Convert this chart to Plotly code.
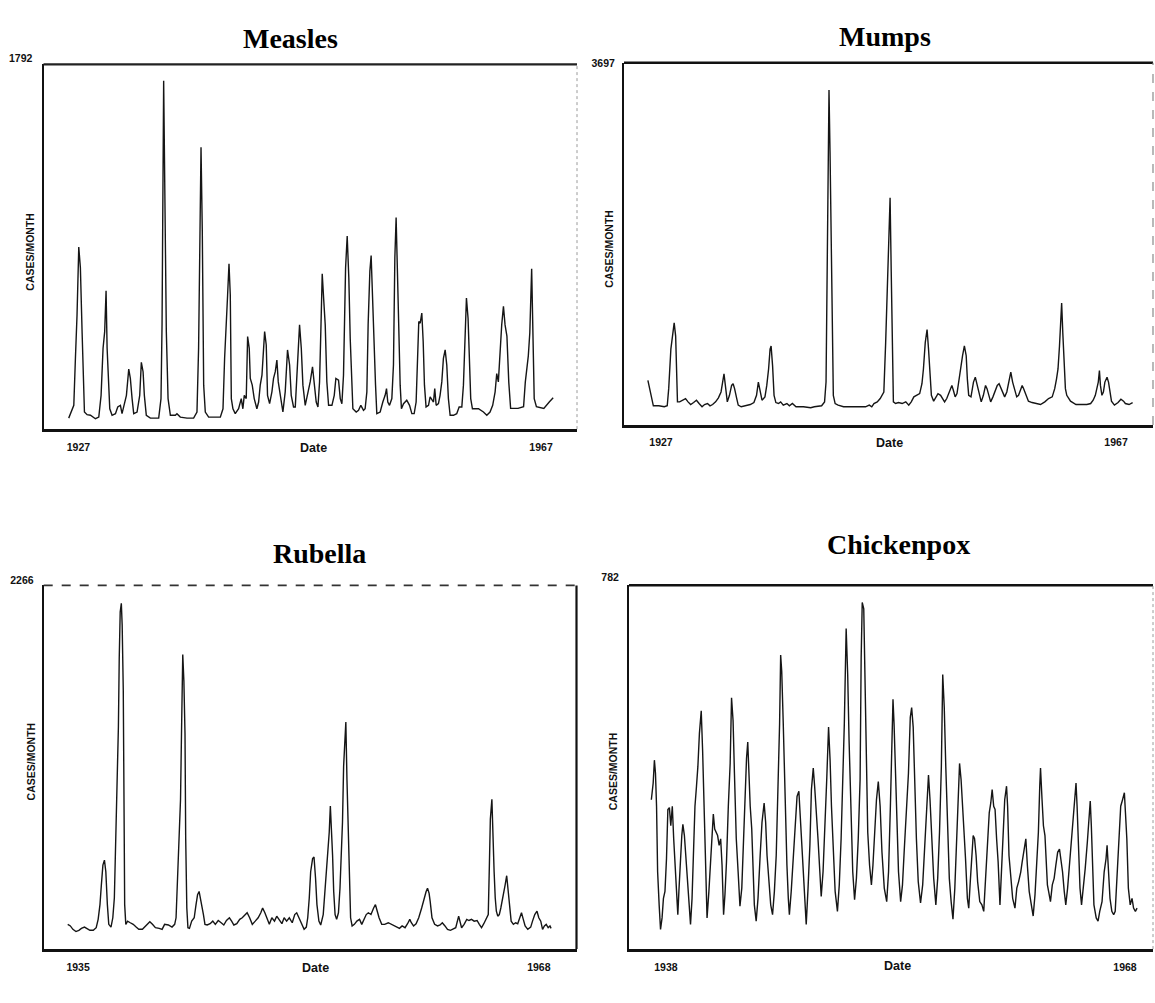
import plotly.graph_objects as go

W, H = 1155, 1003

# ---------------- data (year, cases per month) ----------------
measles_pts = [
    (1926.16, 54), (1926.60, 117), (1926.74, 348), (1926.88, 562), (1927.03, 894), (1927.17, 792),
    (1927.32, 471), (1927.40, 265), (1927.52, 84), (1927.75, 71), (1928.04, 68), (1928.47, 51),
    (1928.76, 59), (1928.96, 166), (1929.13, 397), (1929.27, 479), (1929.39, 680), (1929.48, 397),
    (1929.62, 199), (1929.71, 100), (1929.91, 68), (1930.20, 76), (1930.40, 109), (1930.63, 117),
    (1930.77, 76), (1930.92, 117), (1931.15, 166), (1931.35, 295), (1931.49, 249), (1931.64, 150),
    (1931.78, 76), (1932.07, 84), (1932.30, 166), (1932.44, 328), (1932.59, 282), (1932.70, 166),
    (1932.87, 68), (1933.22, 54), (1933.94, 54), (1934.14, 150), (1934.23, 512), (1934.37, 1711),
    (1934.49, 1072), (1934.60, 479), (1934.75, 150), (1934.95, 68), (1935.38, 68), (1935.52, 76),
    (1935.81, 59), (1936.39, 54), (1936.96, 54), (1937.25, 84), (1937.39, 397), (1937.48, 990),
    (1937.60, 1385), (1937.71, 973), (1937.83, 216), (1937.97, 84), (1938.26, 59), (1939.27, 59),
    (1939.50, 100), (1939.64, 348), (1939.79, 496), (1939.90, 660), (1940.02, 812), (1940.13, 660),
    (1940.22, 150), (1940.36, 100), (1940.56, 76), (1940.85, 100), (1941.08, 150), (1941.22, 100),
    (1941.34, 166), (1941.51, 150), (1941.63, 455), (1941.77, 397), (1941.86, 249), (1942.03, 216),
    (1942.20, 150), (1942.43, 100), (1942.58, 133), (1942.72, 216), (1942.87, 265), (1943.01, 380),
    (1943.10, 479), (1943.24, 413), (1943.35, 166), (1943.53, 125), (1943.73, 183), (1943.87, 249),
    (1944.02, 282), (1944.16, 339), (1944.28, 232), (1944.68, 84), (1944.88, 183), (1945.08, 389),
    (1945.26, 315), (1945.40, 166), (1945.60, 109), (1945.75, 109), (1945.95, 315), (1946.12, 512),
    (1946.27, 397), (1946.41, 216), (1946.61, 117), (1946.81, 166), (1947.04, 232), (1947.24, 306),
    (1947.39, 232), (1947.56, 133), (1947.71, 109), (1947.85, 232), (1947.96, 479), (1948.08, 763),
    (1948.20, 644), (1948.34, 512), (1948.48, 232), (1948.63, 117), (1948.92, 117), (1949.12, 166),
    (1949.26, 249), (1949.49, 240), (1949.64, 150), (1949.78, 125), (1949.92, 265), (1950.10, 792),
    (1950.24, 949), (1950.38, 743), (1950.50, 446), (1950.61, 249), (1950.73, 100), (1951.02, 84),
    (1951.22, 92), (1951.42, 117), (1951.65, 92), (1951.79, 100), (1951.94, 183), (1952.05, 512),
    (1952.20, 776), (1952.31, 853), (1952.43, 644), (1952.57, 348), (1952.69, 216), (1952.80, 76),
    (1953.09, 84), (1953.32, 133), (1953.52, 166), (1953.64, 199), (1953.75, 133), (1953.90, 117),
    (1954.10, 150), (1954.24, 315), (1954.36, 842), (1954.47, 1039), (1954.59, 693), (1954.70, 479),
    (1954.82, 216), (1954.93, 100), (1955.11, 125), (1955.39, 142), (1955.63, 117), (1955.83, 76),
    (1956.03, 76), (1956.20, 133), (1956.32, 380), (1956.43, 529), (1956.55, 520), (1956.69, 570),
    (1956.81, 430), (1956.92, 216), (1957.06, 109), (1957.27, 117), (1957.41, 158), (1957.55, 142),
    (1957.70, 133), (1957.81, 199), (1957.93, 117), (1958.13, 125), (1958.27, 166), (1958.42, 232),
    (1958.56, 348), (1958.71, 389), (1958.85, 315), (1958.99, 150), (1959.14, 68), (1959.43, 68),
    (1959.71, 76), (1959.92, 109), (1960.15, 109), (1960.29, 216), (1960.43, 479), (1960.55, 644),
    (1960.69, 545), (1960.81, 348), (1960.92, 150), (1961.07, 100), (1961.59, 100), (1962.02, 84),
    (1962.31, 68), (1962.59, 84), (1962.82, 117), (1963.03, 183), (1963.17, 273), (1963.31, 232),
    (1963.46, 413), (1963.60, 512), (1963.75, 603), (1963.89, 512), (1964.05, 457), (1964.21, 231),
    (1964.37, 102), (1965.01, 102), (1965.49, 110), (1965.64, 231), (1965.90, 360), (1966.03, 473),
    (1966.19, 788), (1966.28, 554), (1966.41, 150), (1966.60, 110), (1967.24, 102), (1967.73, 134),
    (1968.05, 154),
]

mumps_pts = [
    (1925.85, 454), (1926.01, 370), (1926.17, 286), (1926.33, 195), (1926.81, 195), (1927.29, 185),
    (1927.55, 195), (1927.68, 370), (1927.87, 773), (1928.03, 941), (1928.16, 1042), (1928.29, 907),
    (1928.39, 571), (1928.45, 235), (1928.64, 235), (1928.90, 252), (1929.16, 269), (1929.38, 235),
    (1929.61, 208), (1929.87, 228), (1930.12, 252), (1930.35, 218), (1930.61, 185), (1930.83, 208),
    (1931.09, 218), (1931.31, 195), (1931.54, 208), (1931.80, 235), (1932.05, 276), (1932.28, 336),
    (1932.44, 437), (1932.54, 521), (1932.66, 403), (1932.83, 235), (1933.02, 302), (1933.21, 403),
    (1933.34, 420), (1933.47, 370), (1933.66, 269), (1933.79, 202), (1934.05, 185), (1934.53, 202),
    (1934.85, 208), (1935.17, 228), (1935.40, 302), (1935.56, 437), (1935.72, 336), (1935.88, 252),
    (1936.14, 286), (1936.30, 403), (1936.46, 571), (1936.59, 773), (1936.68, 806), (1936.81, 605),
    (1936.94, 302), (1937.10, 228), (1937.33, 218), (1937.52, 235), (1937.75, 202), (1938.07, 218),
    (1938.29, 195), (1938.55, 218), (1938.87, 185), (1939.52, 185), (1940.16, 175), (1940.48, 185),
    (1941.12, 195), (1941.38, 235), (1941.51, 437), (1941.57, 1243), (1941.67, 2285), (1941.77, 3420),
    (1941.86, 2789), (1941.96, 1781), (1942.06, 773), (1942.15, 302), (1942.31, 218), (1942.57, 202),
    (1943.05, 185), (1944.02, 185), (1944.98, 185), (1945.31, 202), (1945.53, 185), (1945.72, 218),
    (1946.01, 235), (1946.27, 269), (1946.43, 296), (1946.59, 336), (1946.75, 840), (1946.91, 1445),
    (1947.01, 1949), (1947.14, 2318), (1947.24, 1562), (1947.33, 605), (1947.43, 235), (1947.62, 218),
    (1947.88, 228), (1948.20, 218), (1948.52, 235), (1948.78, 202), (1949.00, 235), (1949.23, 286),
    (1949.49, 302), (1949.74, 319), (1949.94, 420), (1950.07, 571), (1950.23, 840), (1950.39, 974),
    (1950.52, 773), (1950.64, 504), (1950.77, 302), (1950.97, 242), (1951.16, 276), (1951.35, 319),
    (1951.58, 302), (1951.74, 269), (1951.93, 235), (1952.12, 269), (1952.38, 336), (1952.57, 403),
    (1952.70, 353), (1952.86, 286), (1953.02, 319), (1953.19, 470), (1953.35, 605), (1953.51, 706),
    (1953.67, 806), (1953.83, 706), (1953.93, 470), (1954.05, 302), (1954.25, 286), (1954.47, 437),
    (1954.63, 487), (1954.79, 403), (1954.96, 302), (1955.15, 235), (1955.34, 302), (1955.53, 403),
    (1955.66, 370), (1955.82, 302), (1955.98, 235), (1956.18, 286), (1956.34, 336), (1956.56, 403),
    (1956.72, 420), (1956.89, 370), (1957.05, 336), (1957.21, 286), (1957.40, 336), (1957.59, 470),
    (1957.75, 538), (1957.91, 437), (1958.11, 336), (1958.27, 286), (1958.43, 302), (1958.56, 336),
    (1958.75, 403), (1958.88, 370), (1959.07, 302), (1959.30, 242), (1959.62, 228), (1960.04, 218),
    (1960.36, 208), (1960.74, 235), (1961.07, 269), (1961.39, 286), (1961.61, 370), (1961.77, 470),
    (1961.90, 571), (1962.03, 806), (1962.13, 1109), (1962.22, 1243), (1962.32, 941), (1962.42, 605),
    (1962.55, 370), (1962.67, 302), (1963.00, 242), (1963.48, 208), (1963.96, 208), (1964.44, 208),
    (1964.77, 218), (1964.99, 252), (1965.18, 302), (1965.31, 370), (1965.44, 437), (1965.54, 554),
    (1965.63, 403), (1965.76, 302), (1965.89, 336), (1966.02, 437), (1966.21, 487), (1966.34, 437),
    (1966.47, 336), (1966.60, 242), (1966.86, 202), (1967.18, 228), (1967.43, 262), (1967.66, 242),
    (1967.82, 218), (1968.14, 208), (1968.46, 228),
]

rubella_pts = [
    (1934.26, 154), (1934.45, 144), (1934.63, 123), (1934.85, 109), (1935.06, 117), (1935.24, 129),
    (1935.46, 137), (1935.64, 129), (1935.85, 117), (1936.09, 117), (1936.30, 133), (1936.44, 185),
    (1936.57, 277), (1936.67, 400), (1936.78, 523), (1936.89, 554), (1936.99, 482), (1937.10, 277),
    (1937.20, 154), (1937.36, 137), (1937.49, 195), (1937.60, 318), (1937.71, 687), (1937.81, 1097),
    (1937.89, 1384), (1937.95, 1815), (1938.02, 2102), (1938.10, 2154), (1938.16, 2020), (1938.24, 1610),
    (1938.29, 892), (1938.34, 277), (1938.42, 154), (1938.55, 174), (1938.74, 164), (1938.95, 154),
    (1939.16, 137), (1939.35, 123), (1939.61, 123), (1939.88, 150), (1940.14, 170), (1940.33, 154),
    (1940.54, 133), (1940.81, 129), (1941.02, 123), (1941.20, 154), (1941.47, 150), (1941.73, 137),
    (1941.92, 154), (1942.02, 195), (1942.13, 420), (1942.24, 708), (1942.34, 933), (1942.42, 1405),
    (1942.50, 1836), (1942.58, 1672), (1942.66, 1343), (1942.71, 687), (1942.79, 256), (1942.87, 133),
    (1942.98, 129), (1943.14, 174), (1943.32, 195), (1943.45, 277), (1943.56, 338), (1943.67, 359),
    (1943.77, 318), (1943.88, 256), (1943.98, 215), (1944.09, 154), (1944.25, 150), (1944.46, 158),
    (1944.65, 174), (1944.83, 154), (1945.04, 178), (1945.25, 164), (1945.44, 150), (1945.63, 178),
    (1945.84, 195), (1946.00, 174), (1946.16, 150), (1946.37, 158), (1946.58, 185), (1946.76, 195),
    (1946.95, 215), (1947.11, 226), (1947.29, 195), (1947.48, 154), (1947.69, 174), (1947.90, 195),
    (1948.09, 226), (1948.22, 256), (1948.38, 226), (1948.54, 185), (1948.70, 154), (1948.88, 195),
    (1949.07, 174), (1949.23, 205), (1949.41, 185), (1949.60, 158), (1949.76, 195), (1949.94, 174),
    (1950.13, 195), (1950.34, 164), (1950.52, 215), (1950.66, 226), (1950.82, 195), (1951.00, 154),
    (1951.19, 123), (1951.35, 137), (1951.45, 195), (1951.56, 318), (1951.66, 482), (1951.80, 564),
    (1951.90, 574), (1952.01, 441), (1952.11, 277), (1952.25, 174), (1952.38, 150), (1952.56, 215),
    (1952.72, 400), (1952.88, 544), (1952.99, 728), (1953.07, 892), (1953.15, 769), (1953.23, 585),
    (1953.31, 359), (1953.41, 215), (1953.52, 185), (1953.65, 226), (1953.76, 379), (1953.84, 523),
    (1953.94, 790), (1954.02, 1138), (1954.10, 1343), (1954.18, 1415), (1954.26, 1056), (1954.34, 728),
    (1954.42, 441), (1954.52, 195), (1954.63, 144), (1954.79, 154), (1954.97, 174), (1955.16, 185),
    (1955.32, 154), (1955.50, 185), (1955.64, 215), (1955.79, 226), (1955.98, 215), (1956.17, 256),
    (1956.30, 277), (1956.43, 236), (1956.56, 195), (1956.75, 154), (1956.96, 154), (1957.22, 164),
    (1957.44, 154), (1957.62, 150), (1957.81, 137), (1958.02, 129), (1958.21, 144), (1958.42, 133),
    (1958.60, 158), (1958.76, 185), (1958.87, 164), (1959.03, 144), (1959.21, 158), (1959.40, 195),
    (1959.61, 256), (1959.79, 318), (1959.93, 359), (1960.03, 379), (1960.14, 349), (1960.22, 297),
    (1960.35, 195), (1960.54, 154), (1960.75, 144), (1960.93, 150), (1961.09, 164), (1961.28, 144),
    (1961.46, 123), (1961.67, 117), (1961.86, 123), (1962.05, 133), (1962.26, 205), (1962.34, 174),
    (1962.47, 133), (1962.65, 154), (1962.84, 185), (1963.00, 178), (1963.18, 185), (1963.37, 174),
    (1963.58, 178), (1963.74, 154), (1963.90, 133), (1964.06, 158), (1964.24, 195), (1964.38, 215),
    (1964.46, 523), (1964.53, 810), (1964.64, 933), (1964.72, 605), (1964.80, 482), (1964.88, 318),
    (1964.96, 236), (1965.06, 205), (1965.17, 215), (1965.28, 256), (1965.38, 297), (1965.49, 359),
    (1965.59, 400), (1965.70, 457), (1965.81, 359), (1965.91, 256), (1966.02, 174), (1966.18, 154),
    (1966.34, 164), (1966.49, 158), (1966.63, 195), (1966.76, 226), (1966.89, 185), (1967.02, 144),
    (1967.21, 123), (1967.42, 137), (1967.55, 174), (1967.71, 215), (1967.87, 236), (1968.00, 195),
    (1968.14, 174), (1968.27, 123), (1968.40, 144), (1968.53, 154), (1968.67, 133), (1968.80, 144),
    (1968.88, 129),
]

chickenpox_pts = [
    (1937.05, 321), (1937.17, 357), (1937.25, 406), (1937.32, 378), (1937.39, 307), (1937.46, 166),
    (1937.56, 95), (1937.65, 42), (1937.75, 67), (1937.84, 109), (1937.94, 124), (1938.04, 194),
    (1938.13, 300), (1938.23, 304), (1938.32, 265), (1938.42, 307), (1938.51, 237), (1938.61, 180),
    (1938.71, 124), (1938.78, 74), (1938.85, 124), (1938.94, 194), (1939.04, 244), (1939.11, 268),
    (1939.21, 244), (1939.30, 201), (1939.40, 145), (1939.49, 95), (1939.61, 53), (1939.71, 109),
    (1939.81, 201), (1939.90, 307), (1940.00, 350), (1940.09, 392), (1940.19, 463), (1940.31, 512),
    (1940.40, 427), (1940.48, 321), (1940.57, 166), (1940.69, 67), (1940.81, 124), (1940.91, 180),
    (1941.00, 237), (1941.10, 290), (1941.19, 258), (1941.29, 251), (1941.38, 244), (1941.48, 223),
    (1941.58, 237), (1941.67, 180), (1941.77, 74), (1941.86, 117), (1941.96, 187), (1942.08, 307),
    (1942.20, 399), (1942.29, 540), (1942.39, 491), (1942.48, 378), (1942.60, 237), (1942.72, 166),
    (1942.84, 92), (1942.96, 131), (1943.08, 237), (1943.18, 357), (1943.27, 410), (1943.35, 445),
    (1943.42, 364), (1943.51, 307), (1943.61, 258), (1943.68, 166), (1943.78, 95), (1943.90, 60),
    (1944.02, 109), (1944.16, 201), (1944.28, 272), (1944.42, 314), (1944.52, 272), (1944.61, 201),
    (1944.73, 138), (1944.85, 95), (1944.97, 74), (1945.09, 124), (1945.21, 201), (1945.33, 343),
    (1945.43, 484), (1945.50, 632), (1945.57, 597), (1945.67, 484), (1945.79, 307), (1945.91, 180),
    (1946.00, 109), (1946.07, 74), (1946.19, 124), (1946.31, 187), (1946.43, 272), (1946.57, 328),
    (1946.69, 339), (1946.81, 265), (1946.93, 180), (1947.05, 102), (1947.17, 53), (1947.29, 131),
    (1947.41, 223), (1947.51, 343), (1947.63, 389), (1947.72, 350), (1947.82, 307), (1947.94, 237),
    (1948.06, 166), (1948.15, 113), (1948.27, 166), (1948.39, 251), (1948.51, 364), (1948.63, 477),
    (1948.73, 406), (1948.82, 307), (1948.94, 194), (1949.06, 124), (1949.21, 81), (1949.33, 138),
    (1949.45, 237), (1949.56, 343), (1949.66, 484), (1949.78, 689), (1949.88, 590), (1949.97, 449),
    (1950.09, 279), (1950.21, 166), (1950.33, 106), (1950.45, 152), (1950.57, 237), (1950.69, 364),
    (1950.76, 625), (1950.83, 745), (1950.93, 731), (1951.00, 590), (1951.09, 378), (1951.19, 251),
    (1951.31, 180), (1951.43, 138), (1951.53, 180), (1951.65, 265), (1951.76, 321), (1951.88, 360),
    (1952.00, 307), (1952.12, 208), (1952.27, 131), (1952.43, 102), (1952.55, 166), (1952.67, 307),
    (1952.77, 449), (1952.84, 537), (1952.91, 484), (1953.01, 378), (1953.10, 251), (1953.20, 166),
    (1953.34, 102), (1953.46, 138), (1953.58, 215), (1953.70, 293), (1953.85, 378), (1953.97, 498),
    (1954.06, 519), (1954.16, 477), (1954.25, 364), (1954.37, 237), (1954.49, 145), (1954.64, 99),
    (1954.78, 138), (1954.90, 223), (1955.02, 307), (1955.16, 374), (1955.26, 321), (1955.38, 237),
    (1955.50, 152), (1955.64, 95), (1955.76, 152), (1955.88, 251), (1956.00, 392), (1956.09, 590),
    (1956.19, 519), (1956.29, 392), (1956.40, 251), (1956.52, 152), (1956.64, 102), (1956.76, 64),
    (1956.88, 131), (1957.00, 237), (1957.12, 343), (1957.19, 399), (1957.29, 364), (1957.39, 307),
    (1957.48, 265), (1957.58, 194), (1957.70, 109), (1957.79, 88), (1957.89, 145), (1957.98, 201),
    (1958.08, 244), (1958.17, 237), (1958.27, 201), (1958.37, 145), (1958.51, 102), (1958.65, 95),
    (1958.77, 81), (1958.89, 152), (1959.01, 215), (1959.13, 293), (1959.23, 314), (1959.32, 343),
    (1959.42, 307), (1959.51, 300), (1959.61, 237), (1959.71, 187), (1959.83, 95), (1959.94, 166),
    (1960.04, 251), (1960.14, 321), (1960.26, 350), (1960.33, 307), (1960.42, 201), (1960.54, 152),
    (1960.66, 109), (1960.81, 88), (1960.93, 131), (1961.05, 145), (1961.19, 166), (1961.28, 187),
    (1961.43, 215), (1961.52, 237), (1961.62, 180), (1961.74, 124), (1961.88, 95), (1962.00, 71),
    (1962.12, 117), (1962.24, 180), (1962.34, 251), (1962.43, 350), (1962.48, 389), (1962.58, 321),
    (1962.67, 265), (1962.77, 244), (1962.84, 194), (1962.93, 138), (1963.03, 120), (1963.13, 102),
    (1963.25, 138), (1963.37, 152), (1963.48, 180), (1963.60, 208), (1963.72, 215), (1963.82, 194),
    (1963.92, 166), (1964.03, 124), (1964.13, 95), (1964.25, 131), (1964.37, 180), (1964.49, 230),
    (1964.61, 293), (1964.73, 336), (1964.80, 357), (1964.87, 307), (1964.97, 223), (1965.06, 131),
    (1965.16, 95), (1965.28, 131), (1965.40, 173), (1965.54, 230), (1965.66, 293), (1965.73, 318),
    (1965.80, 265), (1965.88, 194), (1965.97, 95), (1966.12, 67), (1966.24, 60), (1966.35, 81),
    (1966.50, 102), (1966.64, 166), (1966.76, 194), (1966.83, 223), (1966.93, 166), (1967.02, 109),
    (1967.14, 81), (1967.26, 74), (1967.36, 81), (1967.50, 166), (1967.60, 237), (1967.72, 307),
    (1967.84, 321), (1967.96, 336), (1968.03, 293), (1968.12, 237), (1968.22, 131), (1968.34, 95),
    (1968.46, 109), (1968.56, 88), (1968.68, 81), (1968.79, 88),
]

panel_titles = ["Measles", "Mumps", "Rubella", "Chickenpox"]
y_top_values = [1792, 3697, 2266, 782]
y_top_labels = ["1792", "3697", "2266", "782"]
x_tick_years = [[1927, 1967], [1927, 1967], [1935, 1968], [1938, 1968]]
x_tick_labels = [["1927", "1967"], ["1927", "1967"], ["1935", "1968"], ["1938", "1968"]]
y_axis_title = "CASES/MONTH"
x_axis_title = "Date"
series = [measles_pts, mumps_pts, rubella_pts, chickenpox_pts]

# ---------------- layout geometry (pixels) ----------------
frames = [(43.5, 51, 577, 421), (624, 49.5, 1153, 416.7),
          (43.7, 579.5, 576.5, 948.3), (629, 579.3, 1153, 948.3)]
x_ranges = [(1923.98, 1970.11), (1923.75, 1970.25), (1932.54, 1970.70), (1935.59, 1969.83)]
title_pos = [(290, 25), (885, 23), (319, 547), (898, 538)]
date_pos = [(313, 440), (889, 435), (315, 967), (897, 965)]
ylab_pos = [(30, 241), (609, 238), (31, 758), (613, 768)]
ytick_shift = [-6, 1, -5, -8]
ytick_standoff = [7, 5, 6, 6]
right_style = [dict(color="#9a9a9a", width=1, dash="dot"),
               dict(color="#8a8a8a", width=1.2, dash="dash"),
               dict(color="#111111", width=2.2, dash="solid"),
               dict(color="#9a9a9a", width=1, dash="dot")]
top_style = [dict(color="#222222", width=2.2, dash="solid"),
             dict(color="#111111", width=2.6, dash="solid"),
             dict(color="#333333", width=1.8, dash="dash"),
             dict(color="#111111", width=2.6, dash="solid")]

SANS = "Liberation Sans, Arial, sans-serif"
SERIF = "Liberation Serif, Times New Roman, serif"

fig = go.Figure()
layout = dict(width=W, height=H, margin=dict(l=0, r=0, t=0, b=0),
              paper_bgcolor="white", plot_bgcolor="white", showlegend=False,
              shapes=[], annotations=[])

for i in range(4):
    k = "" if i == 0 else str(i + 1)
    l, t, r, b = frames[i]
    pts = series[i]
    fig.add_trace(go.Scatter(
        x=[p[0] for p in pts], y=[p[1] for p in pts], mode="lines",
        line=dict(color="#151515", width=1.4), xaxis="x" + k, yaxis="y" + k,
        hoverinfo="skip"))
    layout["xaxis" + k] = dict(
        domain=[l / W, r / W], range=list(x_ranges[i]), anchor="y" + k,
        showline=True, linecolor="#111111", linewidth=3, mirror=False,
        showgrid=False, zeroline=False, ticks="",
        tickvals=x_tick_years[i], ticktext=x_tick_labels[i],
        tickfont=dict(family=SANS, size=10.5, color="#111111", weight="bold"),
        ticklabelstandoff=6, fixedrange=True)
    layout["yaxis" + k] = dict(
        domain=[1 - b / H, 1 - t / H], range=[0, y_top_values[i]], anchor="x" + k,
        showline=True, linecolor="#111111", linewidth=2, mirror=False,
        showgrid=False, zeroline=False, ticks="",
        tickvals=[y_top_values[i]], ticktext=[y_top_labels[i]],
        tickfont=dict(family=SANS, size=10.5, color="#111111", weight="bold"),
        ticklabelstandoff=ytick_standoff[i], ticklabelshift=ytick_shift[i],
        fixedrange=True)
    # top and right frame edges
    layout["shapes"].append(dict(type="line", xref="x" + k + " domain", yref="y" + k + " domain",
                                 x0=0, x1=1, y0=1, y1=1, line=top_style[i]))
    layout["shapes"].append(dict(type="line", xref="x" + k + " domain", yref="y" + k + " domain",
                                 x0=1, x1=1, y0=0, y1=1, line=right_style[i]))
    # panel title
    tx, ty = title_pos[i]
    layout["annotations"].append(dict(
        text=panel_titles[i], xref="paper", yref="paper", x=tx / W, y=1 - ty / H,
        xanchor="center", yanchor="middle", showarrow=False,
        font=dict(family=SERIF, size=28, color="#000000", weight="bold")))
    # axis titles
    dx, dy = date_pos[i]
    layout["annotations"].append(dict(
        text=x_axis_title, xref="paper", yref="paper", x=dx / W, y=1 - dy / H,
        xanchor="center", yanchor="middle", showarrow=False,
        font=dict(family=SANS, size=12.5, color="#111111", weight="bold")))
    yx, yy = ylab_pos[i]
    layout["annotations"].append(dict(
        text=y_axis_title, xref="paper", yref="paper", x=yx / W, y=1 - yy / H,
        xanchor="center", yanchor="middle", showarrow=False, textangle=-90,
        font=dict(family=SANS, size=10.5, color="#111111", weight="bold")))

fig.update_layout(**layout)
fig.write_html("out.html")
